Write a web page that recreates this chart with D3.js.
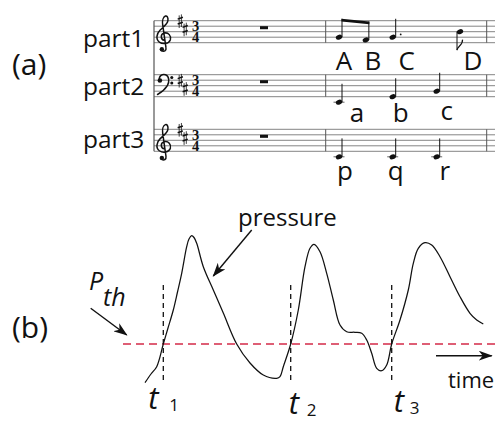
<!DOCTYPE html>
<html><head><meta charset="utf-8">
<script src="https://cdn.jsdelivr.net/npm/d3@7"></script>
<style>
html,body{margin:0;padding:0;background:#fff;}
svg{display:block;}
text{font-family:"Open Sans","Noto Sans",sans-serif;fill:#111;}
</style>
</head><body>
<svg id="c" width="495" height="423"></svg>
<script>
// ---------------- data ----------------
const parts = ["part1", "part2", "part3"];
const clefs = ["treble", "bass", "treble"];
const timeSig = ["3", "4"];
const trebleSharpSteps = [8, 5];
const bassSharpSteps = [6, 3];

const part1Names = ["A", "B", "C", "D"];
const part1Beats = [0, 0.5, 1, 2.5];
const part1Steps = [2, 1, 2, 4];
const part2Names = ["a", "b", "c"];
const part2Beats = [0, 1, 2];
const part2Steps = [-2, 0, 2];
const part3Names = ["p", "q", "r"];
const part3Beats = [0, 1, 2];
const part3Steps = [-2, -2, -2];

const pressureTime = [0.0, 0.6, 1.17, 1.83, 2.3, 2.83, 3.25, 3.67, 4.17, 4.4, 4.67, 4.9, 5.17, 5.83, 6.83, 7.83, 9.17, 10.5, 11.83, 13.17, 13.5, 13.83, 14.57, 15.33, 16.0, 16.5, 16.9, 17.5, 18.17, 18.83, 19.5, 20.17, 21.0, 21.67, 22.17, 22.67, 23.17, 23.67, 24.17, 24.67, 25.5, 26.33, 26.83, 27.33, 28.0, 28.67, 29.5, 30.5, 31.5, 32.5, 33.17, 33.83];
const pressureValue = [0.13, 1.0, 1.73, 4.0, 5.6, 7.4, 9.2, 11.07, 13.73, 14.5, 14.83, 14.65, 14.07, 11.73, 9.4, 7.1, 4.0, 2.1, 0.9, 0.57, 0.73, 1.73, 4.0, 7.4, 11.73, 13.57, 13.97, 13.23, 11.07, 8.4, 5.9, 5.23, 5.17, 5.07, 4.4, 3.07, 1.57, 1.33, 1.9, 4.0, 6.4, 9.4, 12.07, 13.57, 14.13, 13.9, 12.73, 10.73, 8.73, 7.07, 6.4, 6.0];
const thresholdP = 4.0;
const eventTimes = [1.83, 14.57, 24.67];
const eventSubs = ["1", "2", "3"];

// ---------------- layout ----------------
const svg = d3.select("#c");
const S = 5.5;                       // staff space
const staffBottoms = [42.7, 96.7, 151.3];
const staffX0 = 154, staffX1 = 495;
const bar1X = 325.7, bar2X = 486.7;
const ink = "#111";

const beatX = d3.scaleLinear().domain([0, 1, 2, 3]).range([339, 392.7, 436.7, 483.3]);
const stepY = staffBottoms.map(b => d3.scaleLinear().domain([0, 8]).range([b, b - 4 * S]));

const g = svg.append("g");

// staff lines
staffBottoms.forEach((b, i) => {
  d3.range(0, 9, 2).forEach(st => {
    g.append("line").attr("x1", staffX0).attr("x2", staffX1)
      .attr("y1", stepY[i](st)).attr("y2", stepY[i](st))
      .attr("stroke", "#777").attr("stroke-width", 0.9);
  });
  [bar1X, bar2X].forEach(bx => {
    g.append("line").attr("x1", bx).attr("x2", bx)
      .attr("y1", stepY[i](8)).attr("y2", stepY[i](0))
      .attr("stroke", "#555").attr("stroke-width", 1);
  });
  // whole rest (hangs from 4th line)
  g.append("rect").attr("x", 260).attr("y", stepY[i](6)).attr("width", 8).attr("height", S * 0.55).attr("fill", ink);
});
// system line
g.append("line").attr("x1", staffX0).attr("x2", staffX0)
  .attr("y1", stepY[0](8)).attr("y2", stepY[2](0)).attr("stroke", "#555").attr("stroke-width", 1.2);

// clefs
function trebleClef(cx, gy) {
  const p = d3.path();
  const P = (x, y) => [cx + x * S, gy + y * S];
  const m = P(0.15, 0.55); p.moveTo(...m);
  const segs = [
    [-0.55, 0.45, -0.6, -0.55, 0.1, -0.75],
    [0.9, -0.95, 1.45, -0.2, 1.25, 0.45],
    [1.0, 1.2, -0.1, 1.35, -0.75, 0.9],
    [-1.5, 0.35, -1.2, -0.7, -0.6, -1.3],
    [-0.1, -1.8, 0.7, -2.3, 0.8, -3.0],
    [0.9, -3.6, 0.6, -3.95, 0.35, -3.85],
    [-0.05, -3.7, -0.25, -3.0, -0.15, -2.3]
  ];
  segs.forEach(c => p.bezierCurveTo(...P(c[0], c[1]), ...P(c[2], c[3]), ...P(c[4], c[5])));
  p.lineTo(...P(0.45, 1.9));
  p.bezierCurveTo(...P(0.55, 2.5), ...P(0.1, 2.7), ...P(-0.35, 2.45));
  g.append("path").attr("d", p.toString()).attr("fill", "none").attr("stroke", ink).attr("stroke-width", 1.5).attr("stroke-linecap", "round");
  const d = P(-0.3, 2.2);
  g.append("circle").attr("cx", d[0]).attr("cy", d[1]).attr("r", 0.4 * S).attr("fill", ink);
}
function bassClef(x0, fy) {
  const p = d3.path();
  const P = (x, y) => [x0 + x * S * 0.85, fy + y * S];
  p.moveTo(...P(0.3, 0.1));
  p.bezierCurveTo(...P(0.1, -0.9), ...P(1.0, -1.15), ...P(1.6, -1.0));
  p.bezierCurveTo(...P(2.4, -0.8), ...P(2.5, 0.3), ...P(2.0, 1.0));
  p.bezierCurveTo(...P(1.4, 1.8), ...P(0.6, 2.3), ...P(-0.1, 2.6));
  g.append("path").attr("d", p.toString()).attr("fill", "none").attr("stroke", ink).attr("stroke-width", 1.5).attr("stroke-linecap", "round");
  [[0.4, 0.05, 0.42], [2.95, -0.5, 0.28], [2.95, 0.5, 0.28]].forEach(c => {
    const q = P(c[0], c[1]);
    g.append("circle").attr("cx", q[0]).attr("cy", q[1]).attr("r", c[2] * S).attr("fill", ink);
  });
}
function sharp(cx, cy) {
  const h = 1.15 * S;
  g.append("line").attr("x1", cx - 1.1).attr("x2", cx - 1.1).attr("y1", cy - h + 1).attr("y2", cy + h + 1).attr("stroke", ink).attr("stroke-width", 0.8);
  g.append("line").attr("x1", cx + 1.1).attr("x2", cx + 1.1).attr("y1", cy - h).attr("y2", cy + h).attr("stroke", ink).attr("stroke-width", 0.8);
  [-0.45, 0.45].forEach(o => {
    g.append("line").attr("x1", cx - 2.6).attr("x2", cx + 2.6)
      .attr("y1", cy + o * S + 0.9).attr("y2", cy + o * S - 0.9).attr("stroke", ink).attr("stroke-width", 1.5);
  });
}
clefs.forEach((c, i) => {
  if (c === "treble") trebleClef(163.5, stepY[i](2));
  else bassClef(158, stepY[i](6));
  const st = c === "treble" ? trebleSharpSteps : bassSharpSteps;
  sharp(180.3, stepY[i](st[0]));
  sharp(185.2, stepY[i](st[1]));
  const ts = g.append("text").attr("text-anchor", "middle")
    .style("font-family", "'Liberation Serif',serif").style("font-weight", "bold").style("font-size", "14.5px");
  ts.append("tspan").attr("x", 195.5).attr("y", stepY[i](4) - 0.6).text(timeSig[0]);
  ts.append("tspan").attr("x", 195.5).attr("y", stepY[i](0) - 0.4).text(timeSig[1]);
});

// part labels
const partBaselines = [47, 95, 148];
parts.forEach((p, i) => {
  g.append("text").attr("x", 83).attr("y", partBaselines[i]).style("font-size", "24.5px").text(p);
});

// notes
const stemLen = 3.35 * S;
function head(x, y) {
  g.append("ellipse").attr("cx", x).attr("cy", y).attr("rx", 3.3).attr("ry", 2.4)
    .attr("transform", `rotate(-20 ${x} ${y})`).attr("fill", ink);
}
function ledger(i, x, step) {
  for (let st = -2; st >= step; st -= 2) {
    g.append("line").attr("x1", x - 5.5).attr("x2", x + 5.5).attr("y1", stepY[i](st)).attr("y2", stepY[i](st))
      .attr("stroke", "#555").attr("stroke-width", 0.9);
  }
}
const allBeats = [part1Beats, part2Beats, part3Beats];
const allSteps = [part1Steps, part2Steps, part3Steps];
const allNames = [part1Names, part2Names, part3Names];
const labelBase = [70, 122, 180];
const labelNudge = [[5, 7, 14, 13], [18, 8, 10], [6, 3, 8]];
const labelLift = [[0, 0, 0, 0], [0, 0, 2], [0, 0, 0]];

allBeats.forEach((beats, i) => {
  beats.forEach((b, j) => {
    const x = beatX(b), y = stepY[i](allSteps[i][j]);
    ledger(i, x, allSteps[i][j]);
    head(x, y);
    const isD = (i === 0 && j === 3);
    if (isD) {
      const sx = x - 3.0, ey = y + stemLen;
      g.append("line").attr("x1", sx).attr("x2", sx).attr("y1", y).attr("y2", ey).attr("stroke", ink).attr("stroke-width", 1);
      g.append("path").attr("d", `M${sx},${ey} C${sx + 0.5},${ey - 4} ${sx + 6},${ey - 5} ${sx + 5.5},${ey - 10.5}`)
        .attr("fill", "none").attr("stroke", ink).attr("stroke-width", 1.2);
    } else {
      const sx = x + 3.0;
      g.append("line").attr("x1", sx).attr("x2", sx).attr("y1", y).attr("y2", y - stemLen).attr("stroke", ink).attr("stroke-width", 1);
    }
    g.append("text").attr("x", x + labelNudge[i][j]).attr("y", labelBase[i] - labelLift[i][j])
      .attr("text-anchor", "middle").style("font-size", "26px").text(allNames[i][j]);
  });
});
// beam A-B
{
  const xa = beatX(part1Beats[0]) + 3, ya = stepY[0](part1Steps[0]) - stemLen;
  const xb = beatX(part1Beats[1]) + 3, yb = stepY[0](part1Steps[1]) - stemLen;
  g.append("path").attr("d", `M${xa - 0.5},${ya} L${xb + 0.5},${yb} L${xb + 0.5},${yb + 2.6} L${xa - 0.5},${ya + 2.6}Z`).attr("fill", ink);
  // augmentation dot for C
  g.append("circle").attr("cx", beatX(part1Beats[2]) + 8).attr("cy", stepY[0](3)).attr("r", 0.9).attr("fill", ink);
}

// section labels
svg.append("text").attr("x", 12).attr("y", 75).style("font-size", "30px").text("(a)");
svg.append("text").attr("x", 12).attr("y", 338).style("font-size", "30px").text("(b)");

// ---------------- pressure plot ----------------
const xT = d3.scaleLinear().domain([0, 35]).range([145, 495]);
const yP = d3.scaleLinear().domain([0, 15]).range([384, 234]);

const defs = svg.append("defs");
defs.append("marker").attr("id", "ah").attr("viewBox", "0 0 14 10").attr("refX", 13).attr("refY", 5)
  .attr("markerWidth", 14).attr("markerHeight", 10).attr("markerUnits", "userSpaceOnUse").attr("orient", "auto")
  .append("path").attr("d", "M0,0 L14,5 L0,10 L4,5 Z").attr("fill", ink);

// threshold
svg.append("line").attr("x1", xT(-2.2)).attr("x2", xT(35)).attr("y1", yP(thresholdP)).attr("y2", yP(thresholdP))
  .attr("stroke", "#d42a48").attr("stroke-width", 1.3).attr("stroke-dasharray", "8,5");

// event lines
eventTimes.forEach(t => {
  svg.append("line").attr("x1", xT(t)).attr("x2", xT(t)).attr("y1", yP(9.9)).attr("y2", yP(0.2))
    .attr("stroke", ink).attr("stroke-width", 1.3).attr("stroke-dasharray", "5,4");
});

// pressure curve
const pts = pressureTime.map((t, i) => [t, pressureValue[i]]);
svg.append("path").datum(pts)
  .attr("d", d3.line().x(d => xT(d[0])).y(d => yP(d[1])).curve(d3.curveCatmullRom.alpha(0.5)))
  .attr("fill", "none").attr("stroke", ink).attr("stroke-width", 1.25);

// event labels
const evNudge = [[-15, 409, 21, 411], [-2, 414, 18, 416], [2, 412, 16, 414]];
eventTimes.forEach((t, i) => {
  const n = evNudge[i];
  svg.append("text").attr("x", xT(t) + n[0]).attr("y", n[1]).style("font-size", "31px").style("font-style", "italic").text("t");
  svg.append("text").attr("x", xT(t) + n[0] + n[2]).attr("y", n[3]).style("font-size", "17px").text(eventSubs[i]);
});

// annotations
svg.append("text").attr("x", 238).attr("y", 226).style("font-size", "24px").text("pressure");
svg.append("line").attr("x1", 251.7).attr("y1", 230).attr("x2", 213.3).attr("y2", 276)
  .attr("stroke", ink).attr("stroke-width", 1.4).attr("marker-end", "url(#ah)");
svg.append("text").attr("x", 89).attr("y", 290).style("font-size", "25px").style("font-style", "italic").text("P");
svg.append("text").attr("x", 103).attr("y", 306).style("font-size", "25px").style("font-style", "italic").text("th");
svg.append("line").attr("x1", 90.7).attr("y1", 308.3).attr("x2", 126.7).attr("y2", 335)
  .attr("stroke", ink).attr("stroke-width", 1.4).attr("marker-end", "url(#ah)");
svg.append("line").attr("x1", 436).attr("y1", 355.7).attr("x2", 491.7).attr("y2", 355.7)
  .attr("stroke", ink).attr("stroke-width", 1.4).attr("marker-end", "url(#ah)");
svg.append("text").attr("x", 448).attr("y", 388).style("font-size", "22px").text("time");
</script>
</body></html>
